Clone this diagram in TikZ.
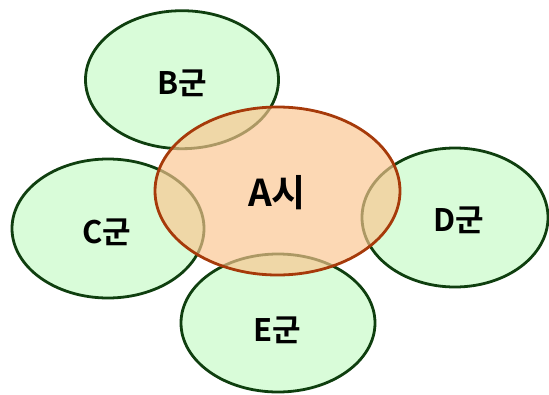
\documentclass[tikz,border=0pt]{standalone}
\usepackage{fontspec}
\newfontfamily\kr{Noto Sans CJK KR Bold}
\usetikzlibrary{shapes.geometric}
\definecolor{gfill}{HTML}{D9FCD9}
\definecolor{gline}{HTML}{0F3F0F}
\definecolor{afill}{HTML}{FAC58F}
\definecolor{aline}{HTML}{A63A0A}
\tikzset{
  gell/.style={ellipse, draw=gline, fill=gfill, line width=2.8pt, inner sep=0pt},
  aell/.style={ellipse, draw=aline, fill=afill, fill opacity=0.67, draw opacity=1, line width=2.8pt, inner sep=0pt},
  lbl/.style={font=\kr\fontsize{31}{33}\selectfont, text=black, inner sep=0pt},
  albl/.style={font=\kr\fontsize{37}{39}\selectfont, text=black, inner sep=0pt}
}
\begin{document}
\begin{tikzpicture}[x=1pt,y=-1pt]
\useasboundingbox (0,0) rectangle (549,394);
\node[gell, minimum width=193pt, minimum height=138pt] (B) at (182,79.7) {};
\node[gell, minimum width=192pt, minimum height=139pt] (C) at (108,228.5) {};
\node[gell, minimum width=186pt, minimum height=139pt] (D) at (455,217.5) {};
\node[gell, minimum width=194pt, minimum height=138pt] (E) at (278,323) {};
\node[aell, minimum width=245pt, minimum height=168pt] (A) at (277.5,191) {};
\node[lbl] (tB) at (182,83) {B군};
\node[lbl] (tC) at (107,232) {C군};
\node[lbl] (tD) at (458.5,220) {D군};
\node[lbl] (tE) at (277,330) {E군};
\node[albl] (tA) at (277,193) {A시};
\end{tikzpicture}
\end{document}
